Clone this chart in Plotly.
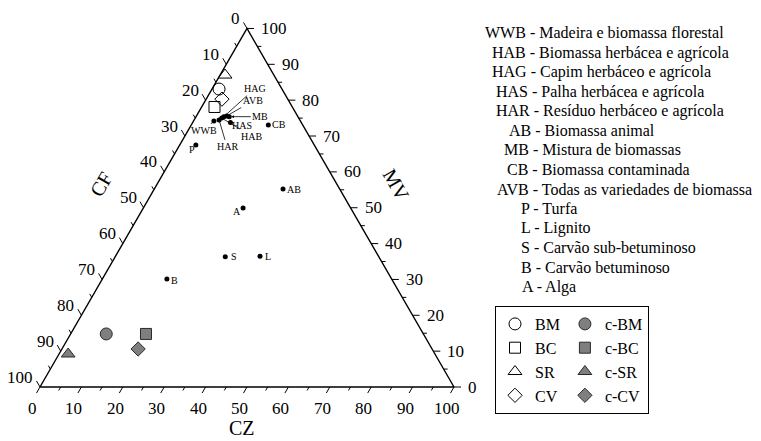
import math
import plotly.graph_objects as go

# ---------------- data (percent, CF = 100 - CZ - MV) ----------------
fuel_codes = ["WWB", "HAB", "HAG", "HAS", "HAR", "AB", "MB", "CB", "AVB", "P", "L", "S", "B", "A"]
fuel_desc = ["Madeira e biomassa florestal", "Biomassa herbácea e agrícola",
             "Capim herbáceo e agrícola", "Palha herbácea e agrícola",
             "Resíduo herbáceo e agrícola", "Biomassa animal", "Mistura de biomassas",
             "Biomassa contaminada", "Todas as variedades de biomassa", "Turfa",
             "Lignito", "Carvão sub-betuminoso", "Carvão betuminoso", "Alga"]
fuel_cz = [4.9, 6.4, 6.7, 9.1, 6.0, 31.1, 8.0, 18.6, 7.3, 3.9, 34.9, 26.6, 15.6, 24.1]
fuel_mv = [74.2, 75.0, 75.4, 73.8, 74.5, 55.2, 75.4, 73.1, 75.6, 67.5, 36.5, 36.3, 30.1, 49.9]

sample_names = ["BM", "BC", "SR", "CV"]
raw_cz = [1.7, 3.1, 1.2, 3.8]
raw_mv = [83.1, 78.1, 87.0, 80.3]
char_cz = [8.6, 18.2, 2.2, 18.4]
char_mv = [14.8, 14.8, 9.2, 10.6]

major_ticks = [0, 10, 20, 30, 40, 50, 60, 70, 80, 90, 100]
minor_ticks = [5, 15, 25, 35, 45, 55, 65, 75, 85, 95]

# ---------------- styles / layout helpers ----------------
SERIF = "Liberation Serif, Times New Roman, Times, serif"
S3 = math.sqrt(3) / 2
PX = 4.14  # pixels per data unit


def txy(cz, mv):
    return cz + mv / 2.0, mv * S3


symbols = {"BM": "circle", "BC": "square", "SR": "triangle-up", "CV": "diamond"}
sizes = {"BM": 12, "BC": 11, "SR": 12, "CV": 11}

# label placement: (dx, dy) pixel offsets of the label centre, arrow head style or None
label_style = {"WWB": (-10, 10, 0), "HAB": (30, 18, 0), "HAG": (31, -28, 0),
               "HAR": (8, 27, 0), "AVB": (26, -15, 0), "MB": (31, 0, 2),
               "HAS": (12, 3, None), "AB": (11, 0, None), "CB": (11, 0, None),
               "P": (-4, 5, None), "L": (8, 0, None), "S": (8.5, 0, None),
               "B": (8, 1.5, None), "A": (-6, 3.5, None)}

fig = go.Figure()

# triangle frame
corners = [(0, 0), (100, 0), (0, 100), (0, 0)]
fx, fy = zip(*[txy(c, m) for c, m in corners])
fig.add_trace(go.Scatter(x=fx, y=fy, mode="lines", line=dict(color="black", width=1.4),
                         hoverinfo="skip", showlegend=False))

# ticks
tx, ty = [], []
for vals, L in ((major_ticks, 7 / PX), (minor_ticks, 4 / PX)):
    for v in vals:
        x0, y0 = txy(v, 0)            # bottom axis (CZ)
        tx += [x0, x0 - 0.5 * L, None]; ty += [y0, y0 - S3 * L, None]
        x0, y0 = txy(0, 100 - v)      # left axis (CF)
        tx += [x0, x0 - 0.5 * L, None]; ty += [y0, y0 + S3 * L, None]
        x0, y0 = txy(100 - v, v)      # right axis (MV)
        tx += [x0, x0 + L, None]; ty += [y0, y0, None]
fig.add_trace(go.Scatter(x=tx, y=ty, mode="lines", line=dict(color="black", width=1),
                         hoverinfo="skip", showlegend=False))

annotations = []
tick_font = dict(family=SERIF, size=17, color="black")
for v in major_ticks:
    x0, y0 = txy(v, 0)
    annotations.append(dict(x=x0, y=y0, text=str(v), showarrow=False, font=tick_font,
                            xanchor="center", yanchor="middle", xshift=-7.5, yshift=-21))
    x0, y0 = txy(0, 100 - v)
    annotations.append(dict(x=x0, y=y0, text=str(v), showarrow=False, font=tick_font,
                            xanchor="right", yanchor="middle", xshift=-5, yshift=10))
    x0, y0 = txy(100 - v, v)
    annotations.append(dict(x=x0, y=y0, text=str(v), showarrow=False, font=tick_font,
                            xanchor="left", yanchor="middle", xshift=12, yshift=0))

# axis titles
title_font = dict(family=SERIF, size=20, color="black")
x0, y0 = txy(50, 0)
annotations.append(dict(x=x0, y=y0, text="CZ", showarrow=False, font=title_font,
                        xshift=-5, yshift=-41))
x0, y0 = txy(0, 50)
annotations.append(dict(x=x0, y=y0, text="CF", showarrow=False, font=title_font,
                        textangle=-60, xshift=-43, yshift=23))
x0, y0 = txy(50, 50)
annotations.append(dict(x=x0, y=y0, text="MV", showarrow=False, font=title_font,
                        textangle=60, xshift=46, yshift=23))

# fuel points
px_, py_ = zip(*[txy(c, m) for c, m in zip(fuel_cz, fuel_mv)])
fig.add_trace(go.Scatter(x=px_, y=py_, mode="markers", marker=dict(color="black", size=5),
                         showlegend=False, hoverinfo="skip", cliponaxis=False))

lab_font = dict(family=SERIF, size=10, color="black")
for c, x, y in zip(fuel_codes, px_, py_):
    dx, dy, head = label_style[c]
    if head is None:
        annotations.append(dict(x=x, y=y, text=c, showarrow=False, xshift=dx, yshift=-dy,
                                xanchor="center", yanchor="middle", font=lab_font))
    else:
        annotations.append(dict(x=x, y=y, text=c, showarrow=True, ax=dx, ay=dy,
                                arrowhead=head, arrowsize=0.7, arrowwidth=0.8,
                                arrowcolor="black", standoff=2, font=lab_font))

# samples: raw (open) and char (filled)
for n, c, m in zip(sample_names, raw_cz, raw_mv):
    x, y = txy(c, m)
    fig.add_trace(go.Scatter(x=[x], y=[y], mode="markers", name=n, legendgroup="raw",
                             marker=dict(symbol=symbols[n] + "-open", size=sizes[n],
                                         color="black", line=dict(width=1)),
                             hoverinfo="name"))
for n, c, m in zip(sample_names, char_cz, char_mv):
    x, y = txy(c, m)
    fig.add_trace(go.Scatter(x=[x], y=[y], mode="markers", name="c-" + n, legendgroup="char",
                             marker=dict(symbol=symbols[n], size=sizes[n], color="#7f7f7f",
                                         line=dict(color="#2a2a2a", width=1)),
                             hoverinfo="name"))

# abbreviations list (right side)
line_x = [483, 490, 490, 494, 494, 507, 502, 505, 495, 519, 519, 519, 519, 520]
for i, (c, d) in enumerate(zip(fuel_codes, fuel_desc)):
    annotations.append(dict(xref="paper", yref="paper", x=line_x[i] / 761,
                            y=1 - (33 + i * 19.5) / 441, text=f"{c} - {d}",
                            showarrow=False, xanchor="left", yanchor="middle",
                            font=dict(family=SERIF, size=16, color="black")))

fig.update_layout(
    width=761, height=441, margin=dict(l=0, r=0, t=0, b=0),
    paper_bgcolor="white", plot_bgcolor="white",
    xaxis=dict(range=[-40 / PX, 721 / PX], visible=False, fixedrange=True),
    yaxis=dict(range=[-54 / PX, 387 / PX], visible=False, fixedrange=True),
    annotations=annotations,
    showlegend=True,
    legend=dict(x=495 / 761, y=1 - 306 / 441, xanchor="left", yanchor="top",
                orientation="h", traceorder="grouped", tracegroupgap=0,
                itemwidth=30, bordercolor="black", borderwidth=1, bgcolor="white",
                font=dict(family=SERIF, size=16, color="black")),
)

fig.write_html("out.html")
